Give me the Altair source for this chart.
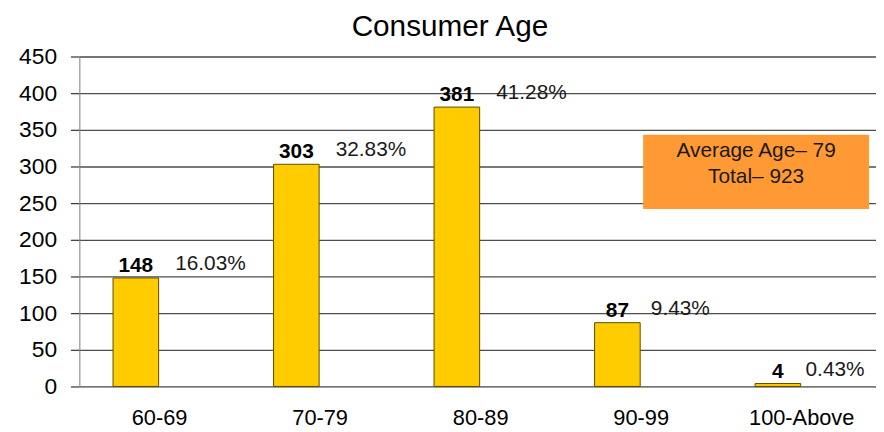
import altair as alt
import pandas as pd

categories = ["60-69", "70-79", "80-89", "90-99", "100-Above"]
counts = [148, 303, 381, 87, 4]
percents = ["16.03%", "32.83%", "41.28%", "9.43%", "0.43%"]
summary_lines = ["Average Age\u2013 79", "Total\u2013 923"]
title_text = "Consumer Age"
y_ticks = [0, 50, 100, 150, 200, 250, 300, 350, 400, 450]

df = pd.DataFrame({"age": categories, "count": counts, "pct": percents})

FONT = "Liberation Sans"

x = alt.X(
    "age:N",
    sort=categories,
    scale=alt.Scale(range=[0, 810], paddingInner=0, paddingOuter=0),
    axis=alt.Axis(
        title=None, labelAngle=0, labelFontSize=22, labelFont=FONT,
        labelColor="black", ticks=False, domain=False, labelPadding=21,
        grid=False,
    ),
)
y = alt.Y(
    "count:Q",
    scale=alt.Scale(domain=[0, 450], nice=False),
    axis=alt.Axis(
        title=None, values=y_ticks, labelFontSize=23, labelFont=FONT,
        labelColor="black", tickSize=9, tickColor="#333333", tickWidth=1.2,
        labelPadding=14, grid=True, gridColor="#4d4d4d", gridWidth=1.3,
        domainColor="#8c8c8c", domainWidth=1,
    ),
)

base = alt.Chart(df)

bars = base.mark_bar(
    width=46, xOffset=-24, color="#FFCC00", stroke="#5e4b00", strokeWidth=1
).encode(x=x, y=y)

count_labels = base.mark_text(
    xOffset=-24, dy=-6, baseline="alphabetic", fontWeight="bold",
    fontSize=21, font=FONT, color="black",
).encode(x=x, y=y, text="count:Q")

pct_labels = base.transform_calculate(
    off="81 - 24 + length(toString(datum.count)) * 5.9 + 22"
).mark_text(
    align="left", baseline="alphabetic", dy=-8, fontSize=21, font=FONT,
    color="#1a1a1a",
).encode(
    x=x, y=y, xOffset=alt.XOffset("off:Q", scale=None), text="pct:N"
)

box = alt.Chart(pd.DataFrame({"k": [0]})).mark_rect(color="#FF9933").encode(
    x=alt.value(569), x2=alt.value(797), y=alt.value(79), y2=alt.value(154)
)
box_text = alt.Chart(pd.DataFrame({"k": [0]})).mark_text(
    text=summary_lines, fontSize=21, font=FONT, color="#1a1a1a",
    lineHeight=27, align="center", baseline="middle",
).encode(x=alt.value(683), y=alt.value(95))

chart = alt.layer(bars, count_labels, pct_labels, box, box_text).properties(
    width=804,
    height=333,
    title=alt.TitleParams(
        title_text, fontSize=30, font=FONT, fontWeight="normal",
        color="black", anchor="middle", dx=-28, offset=4,
    ),
    padding={"left": 72, "top": 47, "right": 0, "bottom": 44},
    autosize=alt.AutoSizeParams(type="none"),
).configure_view(
    fill="#DAD2C1", stroke=None
).configure(background="white")

chart.save("out.html", embed_options={"renderer": "svg", "actions": False})
